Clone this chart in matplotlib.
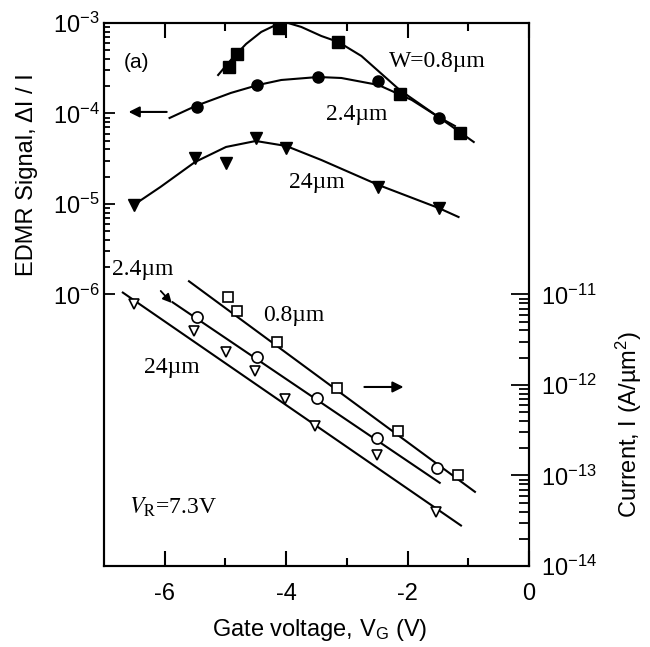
import numpy as np
import matplotlib
matplotlib.use("Agg")
import matplotlib.pyplot as plt
from matplotlib.ticker import FixedLocator, FixedFormatter, NullFormatter

plt.rcParams['font.family'] = ['Liberation Sans', 'DejaVu Sans']
plt.rcParams['mathtext.fontset'] = 'custom'
plt.rcParams['mathtext.rm'] = 'Liberation Sans'
plt.rcParams['mathtext.it'] = 'Liberation Sans:italic'
plt.rcParams['axes.unicode_minus'] = False

# EDMR signal (left axis), filled symbols
vg_sq = [-4.94, -4.81, -4.12, -3.14, -2.13, -1.14]
edmr_sq = [3.3e-4, 4.5e-4, 8.8e-4, 6.2e-4, 1.64e-4, 6.1e-5]
vg_ci = [-5.47, -4.48, -3.47, -2.48, -1.49]
edmr_ci = [1.18e-4, 2.07e-4, 2.53e-4, 2.29e-4, 8.9e-5]
vg_tr = [-6.51, -5.50, -4.99, -4.50, -4.00, -2.48, -1.49]
edmr_tr = [9.7e-6, 3.2e-5, 2.84e-5, 5.37e-5, 4.16e-5, 1.54e-5, 9.0e-6]

# guide curves (log10 of signal)
fit_sq_x = [-5.12, -4.91, -4.66, -4.41, -4.17, -3.97, -3.75, -3.42, -3.14, -2.76, -2.13, -1.49, -0.91]
fit_sq_y = [-3.575, -3.409, -3.232, -3.099, -3.022, -3.0, -3.044, -3.144, -3.21, -3.365, -3.74, -4.039, -4.315]
fit_ci_x = [-5.92, -5.49, -4.91, -4.46, -4.08, -3.47, -3.09, -2.48, -1.93, -1.49, -1.22]
fit_ci_y = [-4.05, -3.917, -3.773, -3.685, -3.63, -3.597, -3.608, -3.685, -3.851, -4.039, -4.138]
fit_tr_x = [-6.51, -6.07, -5.50, -4.99, -4.50, -4.00, -3.42, -2.48, -1.49, -1.16]
fit_tr_y = [-5.011, -4.812, -4.536, -4.37, -4.304, -4.359, -4.514, -4.79, -5.044, -5.144]

# current (right axis), open symbols
vg_osq = [-4.96, -4.81, -4.15, -3.16, -2.15, -1.17]
cur_osq = [9.3e-12, 6.5e-12, 2.95e-12, 9.3e-13, 3.1e-13, 1.0e-13]
vg_oci = [-5.47, -4.48, -3.49, -2.50, -1.51]
cur_oci = [5.7e-12, 2.06e-12, 7.2e-13, 2.6e-13, 1.22e-13]
vg_otr = [-6.51, -5.52, -4.99, -4.51, -4.02, -3.52, -2.51, -1.53]
cur_otr = [7.8e-12, 3.9e-12, 2.29e-12, 1.44e-12, 7.0e-13, 3.5e-13, 1.7e-13, 4.0e-14]

# straight guide lines for current
line_08_x = [-5.60, -0.89]
line_08_y = [1.4e-11, 6.6e-14]
line_24_x = [-5.87, -1.47]
line_24_y = [8.2e-12, 8.3e-14]
line_240_x = [-6.69, -1.12]
line_240_y = [1.05e-11, 2.8e-14]

fig = plt.figure(figsize=(6.5, 6.47), dpi=100)
ax = fig.add_axes([0.16, 0.1252, 0.6538, 0.8393])
ax2 = ax.twinx()

lw = 1.5
ax.plot(fit_sq_x, 10 ** np.array(fit_sq_y), color='black', lw=lw)
ax.plot(fit_ci_x, 10 ** np.array(fit_ci_y), color='black', lw=lw)
ax.plot(fit_tr_x, 10 ** np.array(fit_tr_y), color='black', lw=lw)
ax.plot(vg_sq, edmr_sq, 's', color='black', ms=8)
ax.plot(vg_ci, edmr_ci, 'o', color='black', ms=8)
ax.plot(vg_tr, edmr_tr, 'v', color='black', ms=8.5)

ax2.plot(line_08_x, line_08_y, color='black', lw=lw)
ax2.plot(line_24_x, line_24_y, color='black', lw=lw)
ax2.plot(line_240_x, line_240_y, color='black', lw=lw)
ax2.plot(vg_osq, cur_osq, 's', mfc='white', mec='black', mew=1.2, ms=7)
ax2.plot(vg_oci, cur_oci, 'o', mfc='white', mec='black', mew=1.2, ms=8)
ax2.plot(vg_otr, cur_otr, 'v', mfc='white', mec='black', mew=1.2, ms=7)

ax.set_xlim(-7, 0)
ax.set_yscale('log')
ax.set_ylim(1e-9, 1e-3)
ax2.set_yscale('log')
ax2.set_ylim(1e-14, 1e-8)

ax.xaxis.set_major_locator(FixedLocator([-6, -4, -2, 0]))
ax.xaxis.set_major_formatter(FixedFormatter(['-6', '-4', '-2', '0']))
ax.xaxis.set_minor_locator(FixedLocator([-5, -3, -1]))

left_major = [1e-6, 1e-5, 1e-4, 1e-3]
ax.yaxis.set_major_locator(FixedLocator(left_major))
ax.yaxis.set_major_formatter(FixedFormatter([r'$\mathregular{10^{-6}}$', r'$\mathregular{10^{-5}}$',
                                             r'$\mathregular{10^{-4}}$', r'$\mathregular{10^{-3}}$']))
ax.yaxis.set_minor_locator(FixedLocator([k * 10.0 ** n for n in (-6, -5, -4) for k in range(2, 10)]))
ax.yaxis.set_minor_formatter(NullFormatter())

right_major = [1e-14, 1e-13, 1e-12, 1e-11]
ax2.yaxis.set_major_locator(FixedLocator(right_major))
ax2.yaxis.set_major_formatter(FixedFormatter([r'$\mathregular{10^{-14}}$', r'$\mathregular{10^{-13}}$',
                                              r'$\mathregular{10^{-12}}$', r'$\mathregular{10^{-11}}$']))
ax2.yaxis.set_minor_locator(FixedLocator([k * 10.0 ** n for n in (-14, -13, -12) for k in range(2, 10)]))
ax2.yaxis.set_minor_formatter(NullFormatter())

ax.tick_params(axis='x', which='both', direction='in', top=True, labelsize=17, pad=12, width=1.5)
ax.tick_params(axis='x', which='major', length=11)
ax.tick_params(axis='x', which='minor', length=6)
ax.tick_params(axis='y', which='both', direction='in', right=False, labelsize=17, pad=3, width=1.3)
ax.tick_params(axis='y', which='major', length=8)
ax.tick_params(axis='y', which='minor', length=4.5)
ax2.tick_params(axis='y', which='both', direction='in', labelsize=17, pad=9, width=1.3)
ax2.tick_params(axis='y', which='major', length=13)
ax2.tick_params(axis='y', which='minor', length=7)

for a in (ax, ax2):
    for s in a.spines.values():
        s.set_linewidth(1.5)

ax.text(-0.181, 0.72, 'EDMR Signal, ΔI / I', transform=ax.transAxes, rotation=90,
        ha='center', va='center', fontsize=17)
ax.text(1.235, 0.26, r'Current, I (A/µm$^{\mathregular{2}}$)', transform=ax.transAxes, rotation=90,
        ha='center', va='center', fontsize=17)
ax.text(0.508, -0.118, r'Gate voltage, V$_{\mathregular{G}}$ (V)', transform=ax.transAxes,
        ha='center', va='center', fontsize=17)

ax.text(-6.678, 10 ** -3.442, '(a)', fontsize=15, va='center', ha='left')
serif = dict(family='Liberation Serif', fontsize=17, va='center', ha='left')
ax.text(-2.314, 10 ** -3.431, 'W=0.8µm', **serif)
ax.text(-3.339, 10 ** -4.006, '2.4µm', **serif)
ax.text(-3.95, 10 ** -4.768, '24µm', **serif)
ax.text(-6.86, 10 ** -5.729, '2.4µm', **serif)
ax.text(-4.38, 10 ** -6.227, '0.8µm', **serif)
ax.text(-6.347, 10 ** -6.812, '24µm', **serif)
ax.text(-6.595, 10 ** -8.348, r'$V_{\mathrm{R}}$=7.3V', math_fontfamily='stix', **serif)

arrow = dict(arrowstyle='-|>', color='black', lw=1.5, mutation_scale=16, shrinkA=0, shrinkB=0)
ax.annotate('', xy=(-6.595, 10 ** -3.983), xytext=(-5.967, 10 ** -3.983), arrowprops=arrow)
ax.annotate('', xy=(-2.066, 10 ** -7.022), xytext=(-2.711, 10 ** -7.022), arrowprops=arrow)
ax.annotate('', xy=(-5.884, 10 ** -6.094), xytext=(-6.066, 10 ** -5.961),
            arrowprops=dict(arrowstyle='-|>', color='black', lw=1.3, mutation_scale=13, shrinkA=0, shrinkB=0))

fig.savefig('out.png', dpi=100)
